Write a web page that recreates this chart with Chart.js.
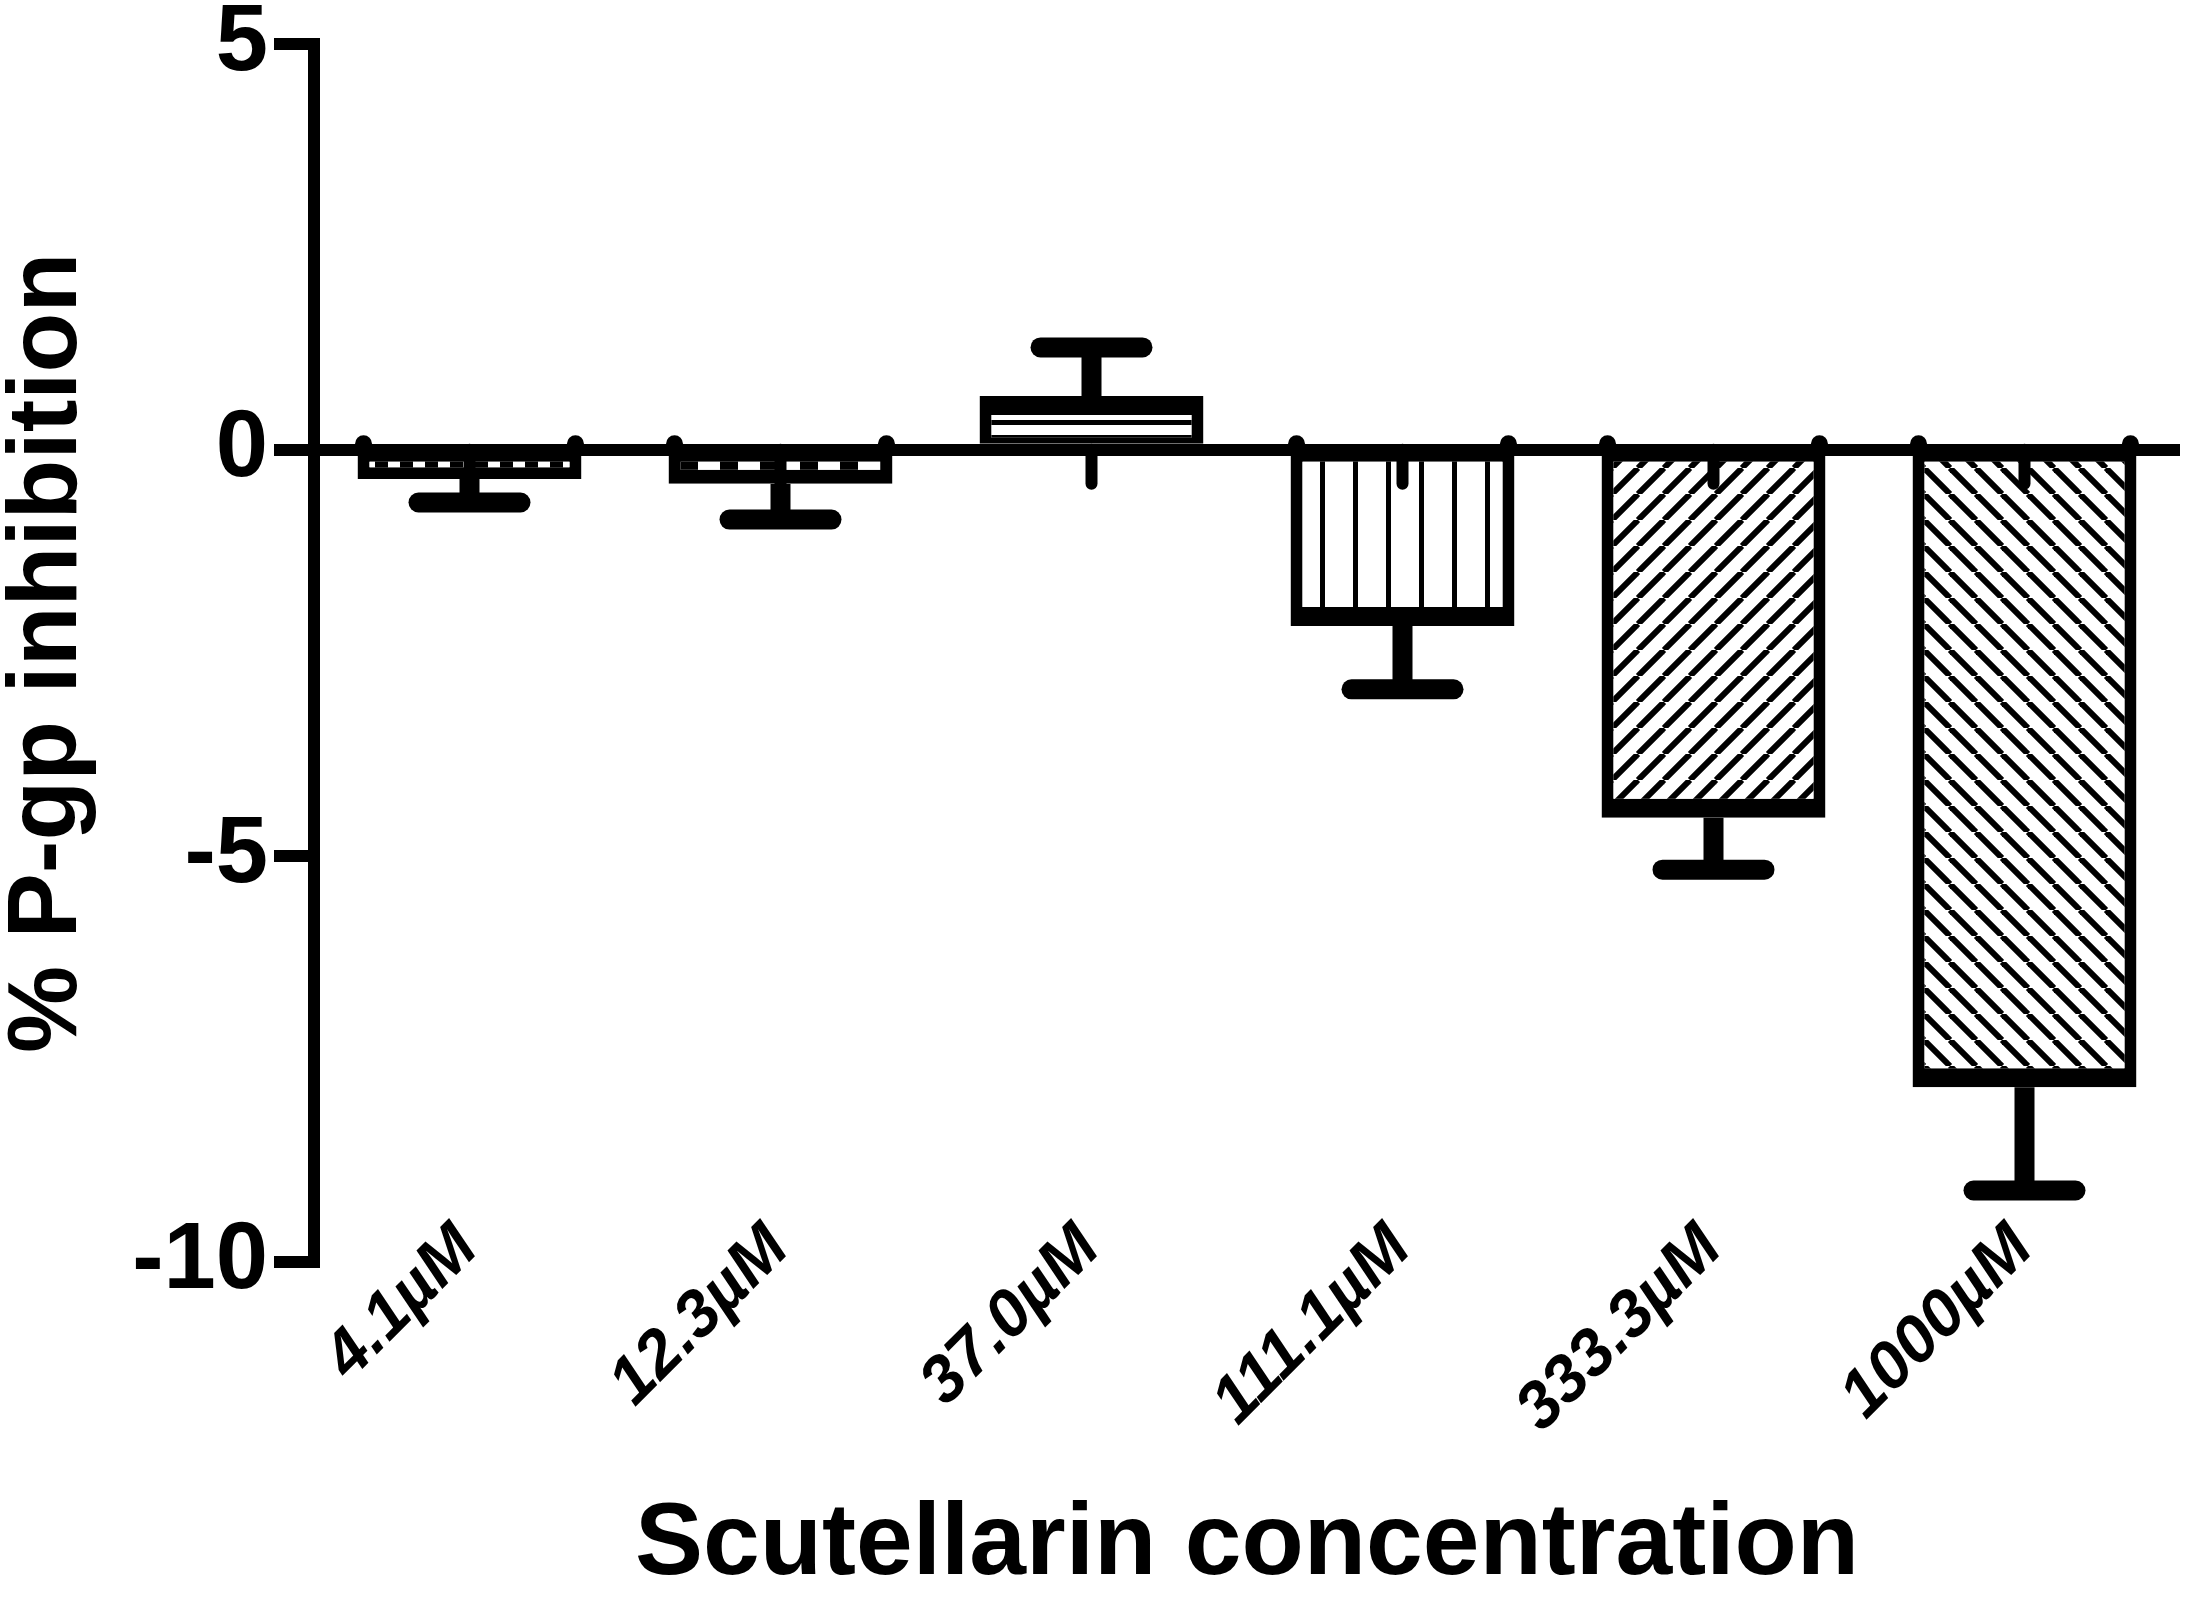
<!DOCTYPE html>
<html>
<head>
<meta charset="utf-8">
<script src="https://cdn.jsdelivr.net/npm/chart.js@4.4.0/dist/chart.umd.min.js"></script>
<style>
  html, body { margin: 0; padding: 0; background: #fff; }
  #wrap { width: 2195px; height: 1601px; }
</style>
</head>
<body>
<div id="wrap"><canvas id="myChart" width="2195" height="1601"></canvas></div>
<script>
// data
var concentrations = ["4.1\u00b5M", "12.3\u00b5M", "37.0\u00b5M", "111.1\u00b5M", "333.3\u00b5M", "1000\u00b5M"];
var pgpInhibition = [-0.36, -0.42, 0.66, -2.17, -4.53, -7.85];
var semValues = [0.29, 0.44, 0.6, 0.78, 0.64, 1.27];
var stubEnds = [-0.42, -0.42, -0.42, -0.42, -0.42, -0.42];
var yTicks = [-10, -5, 0, 5];

var FONT = "'Liberation Sans', Arial, sans-serif";
var canvas = document.getElementById("myChart");
var ctx = canvas.getContext("2d");

function makePattern(w, h, draw) {
    var c = document.createElement("canvas");
    c.width = w;
    c.height = h;
    var g = c.getContext("2d");
    g.fillStyle = "#fff";
    g.fillRect(0, 0, w, h);
    g.fillStyle = "#000";
    g.strokeStyle = "#000";
    draw(g, w, h);
    return ctx.createPattern(c, "repeat");
}

var patterns = [
    makePattern(25, 10, function (g) { g.fillRect(0, 0, 13, 10); }),
    makePattern(40, 10, function (g) { g.fillRect(0, 0, 18, 10); }),
    makePattern(10, 15, function (g) { g.fillRect(0, 0, 10, 5); }),
    makePattern(33, 10, function (g) { g.fillRect(0, 0, 5, 10); }),
    makePattern(26, 26, function (g) {
        g.lineWidth = 6;
        for (var k = -1; k <= 1; k++) {
            g.beginPath(); g.moveTo(k * 26, 26); g.lineTo(k * 26 + 26, 0); g.stroke();
        }
    }),
    makePattern(26, 26, function (g) {
        g.lineWidth = 6;
        for (var k = -1; k <= 1; k++) {
            g.beginPath(); g.moveTo(k * 26, 0); g.lineTo(k * 26 + 26, 26); g.stroke();
        }
    })
];

// error bars, the little stubs under the zero line and the corner dots
var errorBars = {
    id: "errorBars",
    afterDatasetsDraw: function (chart) {
        var c = chart.ctx;
        var y = chart.scales.y;
        var zero = y.getPixelForValue(0);
        c.save();
        c.strokeStyle = "#000";
        c.fillStyle = "#000";
        chart.getDatasetMeta(0).data.forEach(function (bar, i) {
            var v = pgpInhibition[i];
            var e = semValues[i];
            var yEnd = y.getPixelForValue(v);
            var yCap = y.getPixelForValue(v < 0 ? v - e : v + e);

            c.lineCap = "butt";
            c.lineWidth = 20;
            c.beginPath(); c.moveTo(bar.x, yEnd); c.lineTo(bar.x, yCap); c.stroke();

            c.lineCap = "round";
            c.beginPath(); c.moveTo(bar.x - 51, yCap); c.lineTo(bar.x + 51, yCap); c.stroke();

            c.lineWidth = 12;
            c.beginPath(); c.moveTo(bar.x, zero); c.lineTo(bar.x, y.getPixelForValue(stubEnds[i])); c.stroke();

            if (v < 0) {
                var dx = bar.width / 2 - 6;
                [-dx, dx].forEach(function (d) {
                    c.beginPath(); c.arc(bar.x + d, zero - 6, 8.5, 0, Math.PI * 2); c.fill();
                });
            }
        });
        c.restore();
    }
};

// slanted category labels; they reach above the bottom of the plot area,
// where chart.js would clip its own tick labels
var slantedLabels = {
    id: "slantedLabels",
    afterDraw: function (chart) {
        var c = chart.ctx;
        var x = chart.scales.x;
        var bottom = chart.chartArea.bottom;
        c.save();
        c.fillStyle = "#000";
        c.font = "italic bold 66px " + FONT;
        c.textAlign = "right";
        c.textBaseline = "middle";
        concentrations.forEach(function (lab, i) {
            c.save();
            c.translate(x.getPixelForTick(i) - 2, bottom - 24);
            c.rotate(-45 * Math.PI / 180);
            c.fillText(lab, 0, 0);
            c.restore();
        });
        c.restore();
    }
};

new Chart(canvas, {
    type: "bar",
    data: {
        labels: concentrations,
        datasets: [{
            data: pgpInhibition,
            backgroundColor: patterns,
            borderColor: "#000",
            borderSkipped: false,
            borderWidth: function (c) {
                return pgpInhibition[c.dataIndex] < 0
                    ? { top: 6, bottom: 19, left: 12, right: 12 }
                    : { top: 19, bottom: 6, left: 12, right: 12 };
            },
            barPercentage: 0.72,
            categoryPercentage: 1
        }]
    },
    options: {
        responsive: false,
        animation: false,
        layout: { padding: { top: 41, right: 15, left: 0, bottom: 0 } },
        plugins: {
            legend: { display: false },
            tooltip: { enabled: false }
        },
        scales: {
            x: {
                offset: true,
                grid: { display: false },
                border: { display: false },
                ticks: { display: false },
                title: {
                    display: true,
                    text: "Scutellarin concentration",
                    color: "#000",
                    padding: { top: 0, bottom: 4 },
                    font: { family: FONT, size: 102, weight: "bold", lineHeight: 1 }
                },
                afterFit: function (scale) { scale.height = 339; }
            },
            y: {
                min: -10,
                max: 5,
                afterBuildTicks: function (scale) {
                    scale.ticks = yTicks.map(function (v) { return { value: v }; });
                },
                grid: {
                    drawOnChartArea: true,
                    color: function (c) { return c.tick && c.tick.value === 0 ? "#000" : "rgba(0,0,0,0)"; },
                    tickColor: "#000",
                    lineWidth: 12,
                    tickLength: 40
                },
                border: { display: true, color: "#000", width: 12 },
                ticks: {
                    color: "#000",
                    padding: 6,
                    font: { family: FONT, size: 94, weight: "bold", lineHeight: 0.8 }
                },
                title: {
                    display: true,
                    text: "% P-gp inhibition",
                    color: "#000",
                    padding: 0,
                    font: { family: FONT, size: 98, weight: "bold", lineHeight: 1 }
                },
                afterFit: function (scale) { scale.width = 314; }
            }
        }
    },
    plugins: [errorBars, slantedLabels]
});
</script>
</body>
</html>
